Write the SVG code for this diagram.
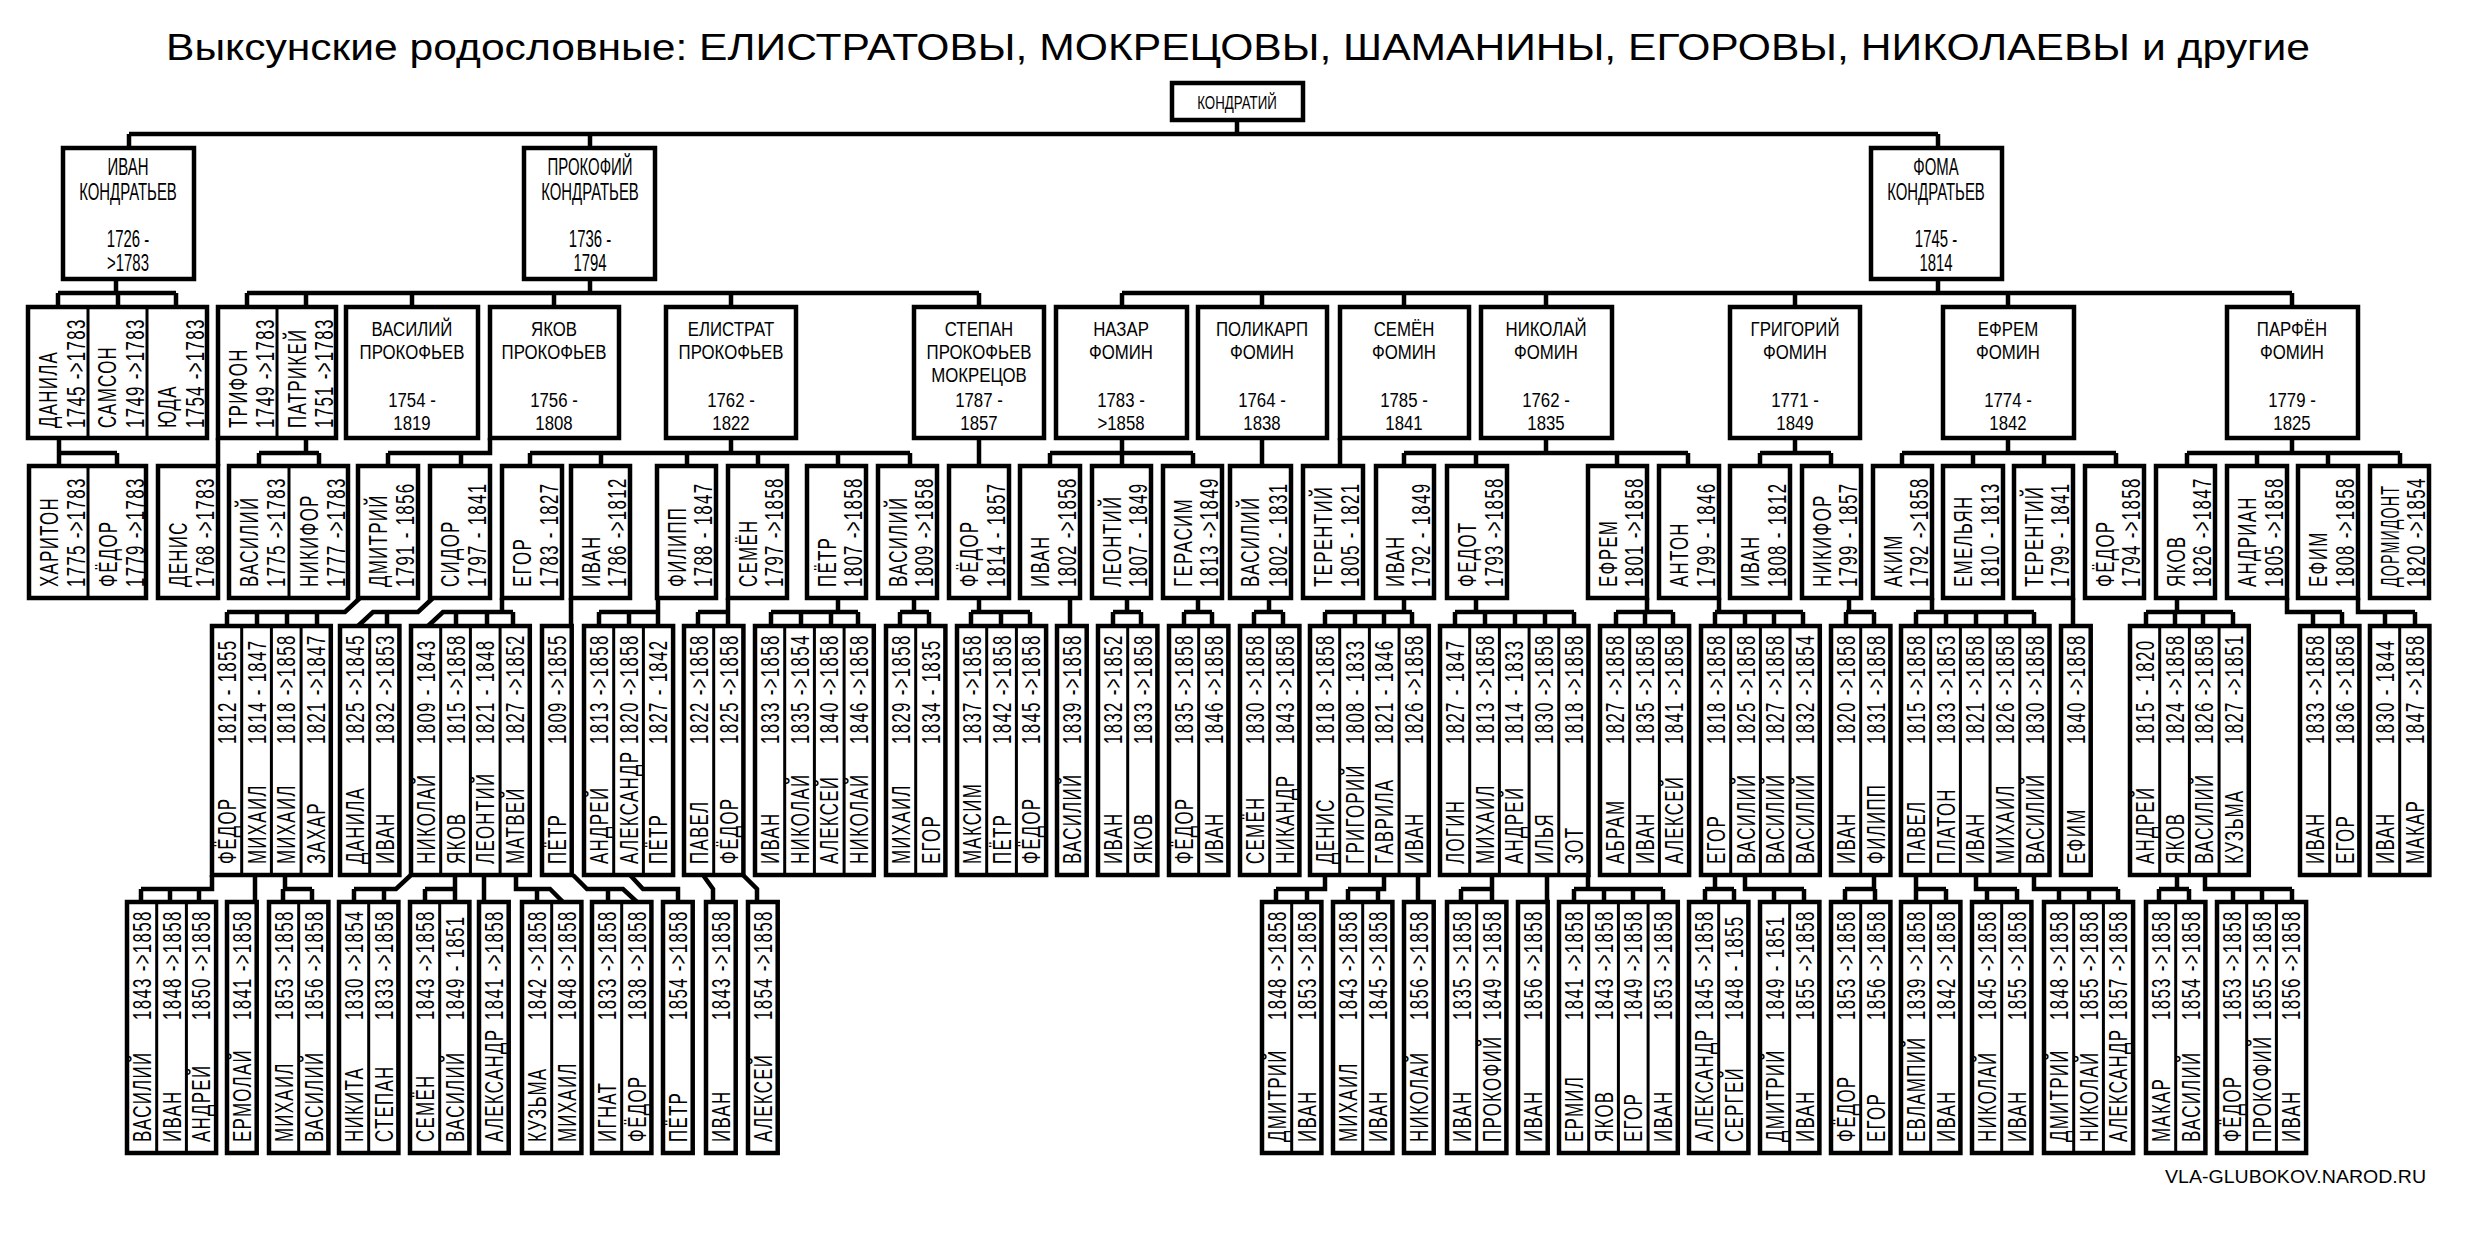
<svg xmlns="http://www.w3.org/2000/svg" width="2477" height="1237" viewBox="0 0 2477 1237">
<style>
.b{fill:#fff;stroke:#000;stroke-width:4.5}
.d{stroke:#000;stroke-width:3}
.c{fill:none;stroke:#000;stroke-width:4.5}
text{font-family:"Liberation Sans",Arial,sans-serif;fill:#000}
.h text{font-size:21px;text-anchor:middle}
.v text{font-size:26px;letter-spacing:2px}
</style>
<rect width="2477" height="1237" fill="#fff"/>
<text x="1238" y="60" font-size="36" text-anchor="middle" textLength="2144" lengthAdjust="spacingAndGlyphs">Выксунские родословные: ЕЛИСТРАТОВЫ, МОКРЕЦОВЫ, ШАМАНИНЫ, ЕГОРОВЫ, НИКОЛАЕВЫ и другие</text>
<text x="2165" y="1183" font-size="18" textLength="261" lengthAdjust="spacingAndGlyphs">VLA-GLUBOKOV.NAROD.RU</text>

<g id="connectors" class="c">
<path d="M1237 120V134M129 134H1938M129 134V148M590 134V148M1938 134V148"/>
<path d="M116 279V293M58 293H176M58 293V307M118 293V307M176 293V307"/>
<path d="M590 279V293M247 293H979M247 293V307M306 293V307M412 293V307M554 293V307M731 293V307M979 293V307"/>
<path d="M1938 279V293M1122 293H2292M1122 293V307M1262 293V307M1404 293V307M1546 293V307M1795 293V307M2008 293V307M2292 293V307"/>
<path d="M59 438V453H117M59 453V466M117 453V466M218 438V466M306 438V453M259 453H319M259 453V466M319 453V466"/>
<path d="M490 438V453H388M388 453V466M461 453V466"/>
<path d="M731 438V453M530 453H910M530 453V466M601 453V466M687 453V466M758 453V466M838 453V466M910 453V466"/>
<path d="M979 438V466M1122 438V453M1050 453H1193M1050 453V466M1122 453V466M1193 453V466M1262 438V466M1340 438V466"/>
<path d="M1546 438V453M1404 453H1688M1404 453V466M1476 453V466M1617 453V466M1688 453V466M1795 438V453M1760 453H1831M1760 453V466M1831 453V466"/>
<path d="M2008 438V453M1902 453H2116M1902 453V466M1973 453V466M2044 453V466M2116 453V466M2292 438V453M2187 453H2400M2187 453V466M2257 453V466M2328 453V466M2400 453V466"/>
<path d="M360 598L345 612H227M227 612V626M257 612V626M287 612V626M317 612V626"/>
<path d="M433 598L418 612H373L358 626M387 612V626"/>
<path d="M502 598V612M443 612H513L443 612L428 626M456 612V626M487 612V626M513 612V626"/>
<path d="M571 598V626M658 598V612H599M599 612V626M629 612V626M658 612V626M728 598V612H698M698 612V626M728 612V626"/>
<path d="M838 598V612M771 612H858M771 612V626M801 612V626M831 612V626M858 612V626M914 598V612M900 612H929M900 612V626M929 612V626"/>
<path d="M979 598V612M971 612H1030M971 612V626M1001 612V626M1030 612V626M1070 598V626M1127 598V612M1113 612H1141M1113 612V626M1141 612V626M1198 598V612M1184 612H1212M1184 612V626M1212 612V626"/>
<path d="M1269 598V612M1254 612H1283M1254 612V626M1283 612V626M1404 598V612M1325 612H1412M1325 612V626M1355 612V626M1384 612V626M1412 612V626"/>
<path d="M1476 598V612M1455 612H1574M1455 612V626M1485 612V626M1515 612V626M1545 612V626M1574 612V626M1647 598V612M1616 612H1673M1616 612V626M1645 612V626M1673 612V626"/>
<path d="M1719 598V612M1715 612H1803M1715 612V626M1745 612V626M1774 612V626M1803 612V626M1849 598V612M1846 612H1874M1846 612V626M1874 612V626"/>
<path d="M1932 598V612M1916 612H2034M1916 612V626M1946 612V626M1976 612V626M2006 612V626M2034 612V626M2073 598V626"/>
<path d="M2177 598V612M2146 612H2233M2146 612V626M2175 612V626M2203 612V626M2233 612V626M2287 598V612H2342M2313 612V626M2342 612V626M2358 598V612H2415M2385 612V626M2415 612V626"/>
<path d="M212 875V889H141M141 889V902M170 889V902M199 889V902M255 875V902M285 875V889M283 889H312M283 889V902M312 889V902"/>
<path d="M411 875L396 889H354M354 889V902M384 889V902M455 875V889H425M425 889V902M455 889V902M484 875V902"/>
<path d="M516 875V889H550L563 902M537 889V902M573 875L587 889H623L637 902M608 889V902M630 875L643 889H678V902M703 875L713 889V902M743 875L757 889V902"/>
<path d="M1325 875V889H1276M1276 889V902M1307 889V902M1384 875V889H1348M1348 889V902M1378 889V902M1418 875V902M1492 875V889H1461M1461 889V902M1492 889V902M1547 875V902"/>
<path d="M1588 875V889M1574 889H1663M1574 889V902M1604 889V902M1633 889V902M1663 889V902M1715 875V889M1705 889H1734M1705 889V902M1734 889V902M1745 875V889H1804M1774 889V902M1804 889V902"/>
<path d="M1874 875V889H1845M1845 889V902M1875 889V902M1916 875V889H1946M1916 889V902M1946 889V902M1976 875V889H2017M1987 889V902M2017 889V902"/>
<path d="M2034 875V889H2118M2059 889V902M2089 889V902M2118 889V902M2177 875V889M2159 889H2189M2159 889V902M2189 889V902M2205 875V889H2292M2233 889V902M2262 889V902M2292 889V902"/>
</g>

<g id="n-kondratiy" class="h"><rect class="b" x="1172" y="83" width="131" height="37"/><text transform="translate(1237,109) scale(.7,1)" style="font-size:19px">КОНДРАТИЙ</text></g>

<g id="n-ivan" class="h"><rect class="b" x="63" y="148" width="131" height="131"/><g transform="translate(128,0) scale(.65,1)"><text y="175" style="font-size:23px">ИВАН</text><text y="200" style="font-size:23px">КОНДРАТЬЕВ</text><text y="247" style="font-size:23px">1726 -</text><text y="271" style="font-size:23px">&gt;1783</text></g></g>
<g id="n-prokofiy" class="h"><rect class="b" x="524" y="148" width="131" height="131"/><g transform="translate(590,0) scale(.65,1)"><text y="175" style="font-size:23px">ПРОКОФИЙ</text><text y="200" style="font-size:23px">КОНДРАТЬЕВ</text><text y="247" style="font-size:23px">1736 -</text><text y="271" style="font-size:23px">1794</text></g></g>
<g id="n-foma" class="h"><rect class="b" x="1871" y="148" width="131" height="131"/><g transform="translate(1936,0) scale(.65,1)"><text y="175" style="font-size:23px">ФОМА</text><text y="200" style="font-size:23px">КОНДРАТЬЕВ</text><text y="247" style="font-size:23px">1745 -</text><text y="271" style="font-size:23px">1814</text></g></g>

<g id="n-vasiliy-p" class="h"><rect class="b" x="346" y="307" width="132" height="131"/><g transform="translate(412,0) scale(.8,1)"><text y="336">ВАСИЛИЙ</text><text y="359">ПРОКОФЬЕВ</text><text y="407">1754 -</text><text y="430">1819</text></g></g>
<g id="n-yakov-p" class="h"><rect class="b" x="490" y="307" width="129" height="131"/><g transform="translate(554,0) scale(.8,1)"><text y="336">ЯКОВ</text><text y="359">ПРОКОФЬЕВ</text><text y="407">1756 -</text><text y="430">1808</text></g></g>
<g id="n-elistrat" class="h"><rect class="b" x="666" y="307" width="130" height="131"/><g transform="translate(731,0) scale(.8,1)"><text y="336">ЕЛИСТРАТ</text><text y="359">ПРОКОФЬЕВ</text><text y="407">1762 -</text><text y="430">1822</text></g></g>
<g id="n-stepan" class="h"><rect class="b" x="914" y="307" width="130" height="131"/><g transform="translate(979,0) scale(.8,1)"><text y="336">СТЕПАН</text><text y="359">ПРОКОФЬЕВ</text><text y="382">МОКРЕЦОВ</text><text y="407">1787 -</text><text y="430">1857</text></g></g>
<g id="n-nazar" class="h"><rect class="b" x="1056" y="307" width="131" height="131"/><g transform="translate(1121,0) scale(.8,1)"><text y="336">НАЗАР</text><text y="359">ФОМИН</text><text y="407">1783 -</text><text y="430">&gt;1858</text></g></g>
<g id="n-polikarp" class="h"><rect class="b" x="1198" y="307" width="129" height="131"/><g transform="translate(1262,0) scale(.8,1)"><text y="336">ПОЛИКАРП</text><text y="359">ФОМИН</text><text y="407">1764 -</text><text y="430">1838</text></g></g>
<g id="n-semen-f" class="h"><rect class="b" x="1340" y="307" width="129" height="131"/><g transform="translate(1404,0) scale(.8,1)"><text y="336">СЕМЁН</text><text y="359">ФОМИН</text><text y="407">1785 -</text><text y="430">1841</text></g></g>
<g id="n-nikolay-f" class="h"><rect class="b" x="1481" y="307" width="131" height="131"/><g transform="translate(1546,0) scale(.8,1)"><text y="336">НИКОЛАЙ</text><text y="359">ФОМИН</text><text y="407">1762 -</text><text y="430">1835</text></g></g>
<g id="n-grigoriy" class="h"><rect class="b" x="1730" y="307" width="130" height="131"/><g transform="translate(1795,0) scale(.8,1)"><text y="336">ГРИГОРИЙ</text><text y="359">ФОМИН</text><text y="407">1771 -</text><text y="430">1849</text></g></g>
<g id="n-efrem-f" class="h"><rect class="b" x="1943" y="307" width="131" height="131"/><g transform="translate(2008,0) scale(.8,1)"><text y="336">ЕФРЕМ</text><text y="359">ФОМИН</text><text y="407">1774 -</text><text y="430">1842</text></g></g>
<g id="n-parfen" class="h"><rect class="b" x="2227" y="307" width="131" height="131"/><g transform="translate(2292,0) scale(.8,1)"><text y="336">ПАРФЁН</text><text y="359">ФОМИН</text><text y="407">1779 -</text><text y="430">1825</text></g></g>

<g id="n-ivan-sons" class="v"><rect class="b" x="28" y="307" width="179" height="131"/><path class="d" d="M88 307V438M147 307V438"/>
<text transform="translate(57,428)rotate(-90)scale(.65,1)">ДАНИЛА</text><text transform="translate(85,428)rotate(-90)scale(.65,1)">1745 -&gt;1783</text>
<text transform="translate(116,428)rotate(-90)scale(.65,1)">САМСОН</text><text transform="translate(144,428)rotate(-90)scale(.65,1)">1749 -&gt;1783</text>
<text transform="translate(176,428)rotate(-90)scale(.65,1)">ЮДА</text><text transform="translate(204,428)rotate(-90)scale(.65,1)">1754 -&gt;1783</text></g>
<g id="n-prok-sons" class="v"><rect class="b" x="218" y="307" width="118" height="131"/><path class="d" d="M277 307V438"/>
<text transform="translate(247,428)rotate(-90)scale(.65,1)">ТРИФОН</text><text transform="translate(274,428)rotate(-90)scale(.65,1)">1749 -&gt;1783</text>
<text transform="translate(306,428)rotate(-90)scale(.65,1)">ПАТРИКЕЙ</text><text transform="translate(333,428)rotate(-90)scale(.65,1)">1751 -&gt;1783</text></g>

<g id="level3" class="v">
<rect class="b" x="29" y="466" width="117" height="132"/><path class="d" d="M88 466V598M288 466V598"/>
<text transform="translate(58,587)rotate(-90)scale(.65,1)">ХАРИТОН</text><text transform="translate(85,587)rotate(-90)scale(.65,1)">1775 -&gt;1783</text>
<text transform="translate(117,587)rotate(-90)scale(.65,1)">ФЁДОР</text><text transform="translate(144,587)rotate(-90)scale(.65,1)">1779 -&gt;1783</text>
<rect class="b" x="158" y="466" width="60" height="132"/>
<text transform="translate(187,587)rotate(-90)scale(.65,1)">ДЕНИС</text><text transform="translate(214,587)rotate(-90)scale(.65,1)">1768 -&gt;1783</text>
<rect class="b" x="229" y="466" width="119" height="132"/><path class="d" d="M289 466V598"/>
<text transform="translate(258,587)rotate(-90)scale(.65,1)">ВАСИЛИЙ</text><text transform="translate(285,587)rotate(-90)scale(.65,1)">1775 -&gt;1783</text>
<text transform="translate(318,587)rotate(-90)scale(.65,1)">НИКИФОР</text><text transform="translate(345,587)rotate(-90)scale(.65,1)">1777 -&gt;1783</text>
<rect class="b" x="358" y="466" width="60" height="132"/><text transform="translate(387,587)rotate(-90)scale(.65,1)">ДМИТРИЙ</text><text transform="translate(414,587)rotate(-90)scale(.65,1)">1791 - 1856</text>
<rect class="b" x="430" y="466" width="60" height="132"/><text transform="translate(459,587)rotate(-90)scale(.65,1)">СИДОР</text><text transform="translate(486,587)rotate(-90)scale(.65,1)">1797 - 1841</text>
<rect class="b" x="502" y="466" width="60" height="132"/><text transform="translate(531,587)rotate(-90)scale(.65,1)">ЕГОР</text><text transform="translate(558,587)rotate(-90)scale(.65,1)">1783 - 1827</text>
<rect class="b" x="571" y="466" width="59" height="132"/><text transform="translate(600,587)rotate(-90)scale(.65,1)">ИВАН</text><text transform="translate(626,587)rotate(-90)scale(.65,1)">1786 -&gt;1812</text>
<rect class="b" x="657" y="466" width="59" height="132"/><text transform="translate(686,587)rotate(-90)scale(.65,1)">ФИЛИПП</text><text transform="translate(712,587)rotate(-90)scale(.65,1)">1788 - 1847</text>
<rect class="b" x="728" y="466" width="59" height="132"/><text transform="translate(757,587)rotate(-90)scale(.65,1)">СЕМЁН</text><text transform="translate(783,587)rotate(-90)scale(.65,1)">1797 -&gt;1858</text>
<rect class="b" x="807" y="466" width="59" height="132"/><text transform="translate(836,587)rotate(-90)scale(.65,1)">ПЁТР</text><text transform="translate(862,587)rotate(-90)scale(.65,1)">1807 -&gt;1858</text>
<rect class="b" x="878" y="466" width="59" height="132"/><text transform="translate(907,587)rotate(-90)scale(.65,1)">ВАСИЛИЙ</text><text transform="translate(933,587)rotate(-90)scale(.65,1)">1809 -&gt;1858</text>
<rect class="b" x="949" y="466" width="60" height="132"/><text transform="translate(978,587)rotate(-90)scale(.65,1)">ФЁДОР</text><text transform="translate(1005,587)rotate(-90)scale(.65,1)">1814 - 1857</text>
<rect class="b" x="1020" y="466" width="60" height="132"/><text transform="translate(1049,587)rotate(-90)scale(.65,1)">ИВАН</text><text transform="translate(1076,587)rotate(-90)scale(.65,1)">1802 -&gt;1858</text>
<rect class="b" x="1092" y="466" width="59" height="132"/><text transform="translate(1121,587)rotate(-90)scale(.65,1)">ЛЕОНТИЙ</text><text transform="translate(1147,587)rotate(-90)scale(.65,1)">1807 - 1849</text>
<rect class="b" x="1163" y="466" width="59" height="132"/><text transform="translate(1192,587)rotate(-90)scale(.65,1)">ГЕРАСИМ</text><text transform="translate(1218,587)rotate(-90)scale(.65,1)">1813 -&gt;1849</text>
<rect class="b" x="1230" y="466" width="61" height="132"/><text transform="translate(1259,587)rotate(-90)scale(.65,1)">ВАСИЛИЙ</text><text transform="translate(1287,587)rotate(-90)scale(.65,1)">1802 - 1831</text>
<rect class="b" x="1303" y="466" width="60" height="132"/><text transform="translate(1332,587)rotate(-90)scale(.65,1)">ТЕРЕНТИЙ</text><text transform="translate(1359,587)rotate(-90)scale(.65,1)">1805 - 1821</text>
<rect class="b" x="1376" y="466" width="58" height="132"/><text transform="translate(1404,587)rotate(-90)scale(.65,1)">ИВАН</text><text transform="translate(1430,587)rotate(-90)scale(.65,1)">1792 - 1849</text>
<rect class="b" x="1447" y="466" width="60" height="132"/><text transform="translate(1476,587)rotate(-90)scale(.65,1)">ФЕДОТ</text><text transform="translate(1503,587)rotate(-90)scale(.65,1)">1793 -&gt;1858</text>
<rect class="b" x="1588" y="466" width="59" height="132"/><text transform="translate(1617,587)rotate(-90)scale(.65,1)">ЕФРЕМ</text><text transform="translate(1643,587)rotate(-90)scale(.65,1)">1801 -&gt;1858</text>
<rect class="b" x="1659" y="466" width="60" height="132"/><text transform="translate(1688,587)rotate(-90)scale(.65,1)">АНТОН</text><text transform="translate(1715,587)rotate(-90)scale(.65,1)">1799 - 1846</text>
<rect class="b" x="1730" y="466" width="60" height="132"/><text transform="translate(1759,587)rotate(-90)scale(.65,1)">ИВАН</text><text transform="translate(1786,587)rotate(-90)scale(.65,1)">1808 - 1812</text>
<rect class="b" x="1802" y="466" width="59" height="132"/><text transform="translate(1831,587)rotate(-90)scale(.65,1)">НИКИФОР</text><text transform="translate(1857,587)rotate(-90)scale(.65,1)">1799 - 1857</text>
<rect class="b" x="1873" y="466" width="59" height="132"/><text transform="translate(1902,587)rotate(-90)scale(.65,1)">АКИМ</text><text transform="translate(1928,587)rotate(-90)scale(.65,1)">1792 -&gt;1858</text>
<rect class="b" x="1943" y="466" width="60" height="132"/><text transform="translate(1972,587)rotate(-90)scale(.65,1)">ЕМЕЛЬЯН</text><text transform="translate(1999,587)rotate(-90)scale(.65,1)">1810 - 1813</text>
<rect class="b" x="2014" y="466" width="59" height="132"/><text transform="translate(2043,587)rotate(-90)scale(.65,1)">ТЕРЕНТИЙ</text><text transform="translate(2069,587)rotate(-90)scale(.65,1)">1799 - 1841</text>
<rect class="b" x="2085" y="466" width="59" height="132"/><text transform="translate(2114,587)rotate(-90)scale(.65,1)">ФЁДОР</text><text transform="translate(2140,587)rotate(-90)scale(.65,1)">1794 -&gt;1858</text>
<rect class="b" x="2156" y="466" width="59" height="132"/><text transform="translate(2185,587)rotate(-90)scale(.65,1)">ЯКОВ</text><text transform="translate(2211,587)rotate(-90)scale(.65,1)">1826 -&gt;1847</text>
<rect class="b" x="2227" y="466" width="60" height="132"/><text transform="translate(2256,587)rotate(-90)scale(.65,1)">АНДРИАН</text><text transform="translate(2283,587)rotate(-90)scale(.65,1)">1805 -&gt;1858</text>
<rect class="b" x="2298" y="466" width="60" height="132"/><text transform="translate(2327,587)rotate(-90)scale(.65,1)">ЕФИМ</text><text transform="translate(2354,587)rotate(-90)scale(.65,1)">1808 -&gt;1858</text>
<rect class="b" x="2370" y="466" width="59" height="132"/><text transform="translate(2399,587)rotate(-90)scale(.55,1)">ДОРМИДОНТ</text><text transform="translate(2425,587)rotate(-90)scale(.65,1)">1820 -&gt;1854</text>
</g>

<g id="level4" class="v">
<rect class="b" x="212" y="626" width="118.8" height="249"/><path class="d" d="M241.7 626V875M271.4 626V875M301.1 626V875"/>
<text transform="translate(236,864)rotate(-90)scale(.65,1)">ФЁДОР</text><text transform="translate(236,744)rotate(-90)scale(.65,1)">1812 - 1855</text>
<text transform="translate(265.7,864)rotate(-90)scale(.65,1)">МИХАИЛ</text><text transform="translate(265.7,744)rotate(-90)scale(.65,1)">1814 - 1847</text>
<text transform="translate(295.4,864)rotate(-90)scale(.65,1)">МИХАИЛ</text><text transform="translate(295.4,744)rotate(-90)scale(.65,1)">1818 -&gt;1858</text>
<text transform="translate(325.1,864)rotate(-90)scale(.65,1)">ЗАХАР</text><text transform="translate(325.1,744)rotate(-90)scale(.65,1)">1821 -&gt;1847</text>
<rect class="b" x="340" y="626" width="59.4" height="249"/><path class="d" d="M369.7 626V875"/>
<text transform="translate(364,864)rotate(-90)scale(.65,1)">ДАНИЛА</text><text transform="translate(364,744)rotate(-90)scale(.65,1)">1825 -&gt;1845</text>
<text transform="translate(393.7,864)rotate(-90)scale(.65,1)">ИВАН</text><text transform="translate(393.7,744)rotate(-90)scale(.65,1)">1832 -&gt;1853</text>
<rect class="b" x="411" y="626" width="118.8" height="249"/><path class="d" d="M440.7 626V875M470.4 626V875M500.1 626V875"/>
<text transform="translate(435,864)rotate(-90)scale(.65,1)">НИКОЛАЙ</text><text transform="translate(435,744)rotate(-90)scale(.65,1)">1809 - 1843</text>
<text transform="translate(464.7,864)rotate(-90)scale(.65,1)">ЯКОВ</text><text transform="translate(464.7,744)rotate(-90)scale(.65,1)">1815 -&gt;1858</text>
<text transform="translate(494.4,864)rotate(-90)scale(.65,1)">ЛЕОНТИЙ</text><text transform="translate(494.4,744)rotate(-90)scale(.65,1)">1821 - 1848</text>
<text transform="translate(524.1,864)rotate(-90)scale(.65,1)">МАТВЕЙ</text><text transform="translate(524.1,744)rotate(-90)scale(.65,1)">1827 -&gt;1852</text>
<rect class="b" x="542" y="626" width="29.7" height="249"/>
<text transform="translate(566,864)rotate(-90)scale(.65,1)">ПЁТР</text><text transform="translate(566,744)rotate(-90)scale(.65,1)">1809 -&gt;1855</text>
<rect class="b" x="584" y="626" width="89.1" height="249"/><path class="d" d="M613.7 626V875M643.4 626V875"/>
<text transform="translate(608,864)rotate(-90)scale(.65,1)">АНДРЕЙ</text><text transform="translate(608,744)rotate(-90)scale(.65,1)">1813 -&gt;1858</text>
<text transform="translate(637.7,864)rotate(-90)scale(.65,1)">АЛЕКСАНДР</text><text transform="translate(637.7,744)rotate(-90)scale(.65,1)">1820 -&gt;1858</text>
<text transform="translate(667.4,864)rotate(-90)scale(.65,1)">ПЁТР</text><text transform="translate(667.4,744)rotate(-90)scale(.65,1)">1827 - 1842</text>
<rect class="b" x="684" y="626" width="59.4" height="249"/><path class="d" d="M713.7 626V875"/>
<text transform="translate(708,864)rotate(-90)scale(.65,1)">ПАВЕЛ</text><text transform="translate(708,744)rotate(-90)scale(.65,1)">1822 -&gt;1858</text>
<text transform="translate(737.7,864)rotate(-90)scale(.65,1)">ФЁДОР</text><text transform="translate(737.7,744)rotate(-90)scale(.65,1)">1825 -&gt;1858</text>
<rect class="b" x="755" y="626" width="118.8" height="249"/><path class="d" d="M784.7 626V875M814.4 626V875M844.1 626V875"/>
<text transform="translate(779,864)rotate(-90)scale(.65,1)">ИВАН</text><text transform="translate(779,744)rotate(-90)scale(.65,1)">1833 -&gt;1858</text>
<text transform="translate(808.7,864)rotate(-90)scale(.65,1)">НИКОЛАЙ</text><text transform="translate(808.7,744)rotate(-90)scale(.65,1)">1835 -&gt;1854</text>
<text transform="translate(838.4,864)rotate(-90)scale(.65,1)">АЛЕКСЕЙ</text><text transform="translate(838.4,744)rotate(-90)scale(.65,1)">1840 -&gt;1858</text>
<text transform="translate(868.1,864)rotate(-90)scale(.65,1)">НИКОЛАЙ</text><text transform="translate(868.1,744)rotate(-90)scale(.65,1)">1846 -&gt;1858</text>
<rect class="b" x="886" y="626" width="59.4" height="249"/><path class="d" d="M915.7 626V875"/>
<text transform="translate(910,864)rotate(-90)scale(.65,1)">МИХАИЛ</text><text transform="translate(910,744)rotate(-90)scale(.65,1)">1829 -&gt;1858</text>
<text transform="translate(939.7,864)rotate(-90)scale(.65,1)">ЕГОР</text><text transform="translate(939.7,744)rotate(-90)scale(.65,1)">1834 - 1835</text>
<rect class="b" x="957" y="626" width="89.1" height="249"/><path class="d" d="M986.7 626V875M1016.4 626V875"/>
<text transform="translate(981,864)rotate(-90)scale(.65,1)">МАКСИМ</text><text transform="translate(981,744)rotate(-90)scale(.65,1)">1837 -&gt;1858</text>
<text transform="translate(1010.7,864)rotate(-90)scale(.65,1)">ПЁТР</text><text transform="translate(1010.7,744)rotate(-90)scale(.65,1)">1842 -&gt;1858</text>
<text transform="translate(1040.4,864)rotate(-90)scale(.65,1)">ФЁДОР</text><text transform="translate(1040.4,744)rotate(-90)scale(.65,1)">1845 -&gt;1858</text>
<rect class="b" x="1057" y="626" width="29.7" height="249"/>
<text transform="translate(1081,864)rotate(-90)scale(.65,1)">ВАСИЛИЙ</text><text transform="translate(1081,744)rotate(-90)scale(.65,1)">1839 -&gt;1858</text>
<rect class="b" x="1098" y="626" width="59.4" height="249"/><path class="d" d="M1127.7 626V875"/>
<text transform="translate(1122,864)rotate(-90)scale(.65,1)">ИВАН</text><text transform="translate(1122,744)rotate(-90)scale(.65,1)">1832 -&gt;1852</text>
<text transform="translate(1151.7,864)rotate(-90)scale(.65,1)">ЯКОВ</text><text transform="translate(1151.7,744)rotate(-90)scale(.65,1)">1833 -&gt;1858</text>
<rect class="b" x="1169" y="626" width="59.4" height="249"/><path class="d" d="M1198.7 626V875"/>
<text transform="translate(1193,864)rotate(-90)scale(.65,1)">ФЁДОР</text><text transform="translate(1193,744)rotate(-90)scale(.65,1)">1835 -&gt;1858</text>
<text transform="translate(1222.7,864)rotate(-90)scale(.65,1)">ИВАН</text><text transform="translate(1222.7,744)rotate(-90)scale(.65,1)">1846 -&gt;1858</text>
<rect class="b" x="1240" y="626" width="59.4" height="249"/><path class="d" d="M1269.7 626V875"/>
<text transform="translate(1264,864)rotate(-90)scale(.65,1)">СЕМЁН</text><text transform="translate(1264,744)rotate(-90)scale(.65,1)">1830 -&gt;1858</text>
<text transform="translate(1293.7,864)rotate(-90)scale(.65,1)">НИКАНДР</text><text transform="translate(1293.7,744)rotate(-90)scale(.65,1)">1843 -&gt;1858</text>
<rect class="b" x="1310" y="626" width="118.8" height="249"/><path class="d" d="M1339.7 626V875M1369.4 626V875M1399.1 626V875"/>
<text transform="translate(1334,864)rotate(-90)scale(.65,1)">ДЕНИС</text><text transform="translate(1334,744)rotate(-90)scale(.65,1)">1818 -&gt;1858</text>
<text transform="translate(1363.7,864)rotate(-90)scale(.65,1)">ГРИГОРИЙ</text><text transform="translate(1363.7,744)rotate(-90)scale(.65,1)">1808 - 1833</text>
<text transform="translate(1393.4,864)rotate(-90)scale(.65,1)">ГАВРИЛА</text><text transform="translate(1393.4,744)rotate(-90)scale(.65,1)">1821 - 1846</text>
<text transform="translate(1423.1,864)rotate(-90)scale(.65,1)">ИВАН</text><text transform="translate(1423.1,744)rotate(-90)scale(.65,1)">1826 -&gt;1858</text>
<rect class="b" x="1440" y="626" width="148.5" height="249"/><path class="d" d="M1469.7 626V875M1499.4 626V875M1529.1 626V875M1558.8 626V875"/>
<text transform="translate(1464,864)rotate(-90)scale(.65,1)">ЛОГИН</text><text transform="translate(1464,744)rotate(-90)scale(.65,1)">1827 - 1847</text>
<text transform="translate(1493.7,864)rotate(-90)scale(.65,1)">МИХАИЛ</text><text transform="translate(1493.7,744)rotate(-90)scale(.65,1)">1813 -&gt;1858</text>
<text transform="translate(1523.4,864)rotate(-90)scale(.65,1)">АНДРЕЙ</text><text transform="translate(1523.4,744)rotate(-90)scale(.65,1)">1814 - 1833</text>
<text transform="translate(1553.1,864)rotate(-90)scale(.65,1)">ИЛЬЯ</text><text transform="translate(1553.1,744)rotate(-90)scale(.65,1)">1830 -&gt;1858</text>
<text transform="translate(1582.8,864)rotate(-90)scale(.65,1)">ЗОТ</text><text transform="translate(1582.8,744)rotate(-90)scale(.65,1)">1818 -&gt;1858</text>
<rect class="b" x="1600" y="626" width="89.1" height="249"/><path class="d" d="M1629.7 626V875M1659.4 626V875"/>
<text transform="translate(1624,864)rotate(-90)scale(.65,1)">АБРАМ</text><text transform="translate(1624,744)rotate(-90)scale(.65,1)">1827 -&gt;1858</text>
<text transform="translate(1653.7,864)rotate(-90)scale(.65,1)">ИВАН</text><text transform="translate(1653.7,744)rotate(-90)scale(.65,1)">1835 -&gt;1858</text>
<text transform="translate(1683.4,864)rotate(-90)scale(.65,1)">АЛЕКСЕЙ</text><text transform="translate(1683.4,744)rotate(-90)scale(.65,1)">1841 -&gt;1858</text>
<rect class="b" x="1701" y="626" width="118.8" height="249"/><path class="d" d="M1730.7 626V875M1760.4 626V875M1790.1 626V875"/>
<text transform="translate(1725,864)rotate(-90)scale(.65,1)">ЕГОР</text><text transform="translate(1725,744)rotate(-90)scale(.65,1)">1818 -&gt;1858</text>
<text transform="translate(1754.7,864)rotate(-90)scale(.65,1)">ВАСИЛИЙ</text><text transform="translate(1754.7,744)rotate(-90)scale(.65,1)">1825 -&gt;1858</text>
<text transform="translate(1784.4,864)rotate(-90)scale(.65,1)">ВАСИЛИЙ</text><text transform="translate(1784.4,744)rotate(-90)scale(.65,1)">1827 -&gt;1858</text>
<text transform="translate(1814.1,864)rotate(-90)scale(.65,1)">ВАСИЛИЙ</text><text transform="translate(1814.1,744)rotate(-90)scale(.65,1)">1832 -&gt;1854</text>
<rect class="b" x="1831" y="626" width="59.4" height="249"/><path class="d" d="M1860.7 626V875"/>
<text transform="translate(1855,864)rotate(-90)scale(.65,1)">ИВАН</text><text transform="translate(1855,744)rotate(-90)scale(.65,1)">1820 -&gt;1858</text>
<text transform="translate(1884.7,864)rotate(-90)scale(.65,1)">ФИЛИПП</text><text transform="translate(1884.7,744)rotate(-90)scale(.65,1)">1831 -&gt;1858</text>
<rect class="b" x="1901" y="626" width="148.5" height="249"/><path class="d" d="M1930.7 626V875M1960.4 626V875M1990.1 626V875M2019.8 626V875"/>
<text transform="translate(1925,864)rotate(-90)scale(.65,1)">ПАВЕЛ</text><text transform="translate(1925,744)rotate(-90)scale(.65,1)">1815 -&gt;1858</text>
<text transform="translate(1954.7,864)rotate(-90)scale(.65,1)">ПЛАТОН</text><text transform="translate(1954.7,744)rotate(-90)scale(.65,1)">1833 -&gt;1853</text>
<text transform="translate(1984.4,864)rotate(-90)scale(.65,1)">ИВАН</text><text transform="translate(1984.4,744)rotate(-90)scale(.65,1)">1821 -&gt;1858</text>
<text transform="translate(2014.1,864)rotate(-90)scale(.65,1)">МИХАИЛ</text><text transform="translate(2014.1,744)rotate(-90)scale(.65,1)">1826 -&gt;1858</text>
<text transform="translate(2043.8,864)rotate(-90)scale(.65,1)">ВАСИЛИЙ</text><text transform="translate(2043.8,744)rotate(-90)scale(.65,1)">1830 -&gt;1858</text>
<rect class="b" x="2061" y="626" width="29.7" height="249"/>
<text transform="translate(2085,864)rotate(-90)scale(.65,1)">ЕФИМ</text><text transform="translate(2085,744)rotate(-90)scale(.65,1)">1840 -&gt;1858</text>
<rect class="b" x="2130" y="626" width="118.8" height="249"/><path class="d" d="M2159.7 626V875M2189.4 626V875M2219.1 626V875"/>
<text transform="translate(2154,864)rotate(-90)scale(.65,1)">АНДРЕЙ</text><text transform="translate(2154,744)rotate(-90)scale(.65,1)">1815 - 1820</text>
<text transform="translate(2183.7,864)rotate(-90)scale(.65,1)">ЯКОВ</text><text transform="translate(2183.7,744)rotate(-90)scale(.65,1)">1824 -&gt;1858</text>
<text transform="translate(2213.4,864)rotate(-90)scale(.65,1)">ВАСИЛИЙ</text><text transform="translate(2213.4,744)rotate(-90)scale(.65,1)">1826 -&gt;1858</text>
<text transform="translate(2243.1,864)rotate(-90)scale(.65,1)">КУЗЬМА</text><text transform="translate(2243.1,744)rotate(-90)scale(.65,1)">1827 -&gt;1851</text>
<rect class="b" x="2300" y="626" width="59.4" height="249"/><path class="d" d="M2329.7 626V875"/>
<text transform="translate(2324,864)rotate(-90)scale(.65,1)">ИВАН</text><text transform="translate(2324,744)rotate(-90)scale(.65,1)">1833 -&gt;1858</text>
<text transform="translate(2353.7,864)rotate(-90)scale(.65,1)">ЕГОР</text><text transform="translate(2353.7,744)rotate(-90)scale(.65,1)">1836 -&gt;1858</text>
<rect class="b" x="2370" y="626" width="59.4" height="249"/><path class="d" d="M2399.7 626V875"/>
<text transform="translate(2394,864)rotate(-90)scale(.65,1)">ИВАН</text><text transform="translate(2394,744)rotate(-90)scale(.65,1)">1830 - 1844</text>
<text transform="translate(2423.7,864)rotate(-90)scale(.65,1)">МАКАР</text><text transform="translate(2423.7,744)rotate(-90)scale(.65,1)">1847 -&gt;1858</text>
</g>

<g id="level5" class="v">
<rect class="b" x="127" y="902" width="89.1" height="251"/><path class="d" d="M156.7 902V1153M186.4 902V1153"/>
<text transform="translate(151,1142)rotate(-90)scale(.65,1)">ВАСИЛИЙ</text><text transform="translate(151,1020)rotate(-90)scale(.65,1)">1843 -&gt;1858</text>
<text transform="translate(180.7,1142)rotate(-90)scale(.65,1)">ИВАН</text><text transform="translate(180.7,1020)rotate(-90)scale(.65,1)">1848 -&gt;1858</text>
<text transform="translate(210.4,1142)rotate(-90)scale(.65,1)">АНДРЕЙ</text><text transform="translate(210.4,1020)rotate(-90)scale(.65,1)">1850 -&gt;1858</text>
<rect class="b" x="227" y="902" width="29.7" height="251"/>
<text transform="translate(251,1142)rotate(-90)scale(.65,1)">ЕРМОЛАЙ</text><text transform="translate(251,1020)rotate(-90)scale(.65,1)">1841 -&gt;1858</text>
<rect class="b" x="269" y="902" width="59.4" height="251"/><path class="d" d="M298.7 902V1153"/>
<text transform="translate(293,1142)rotate(-90)scale(.65,1)">МИХАИЛ</text><text transform="translate(293,1020)rotate(-90)scale(.65,1)">1853 -&gt;1858</text>
<text transform="translate(322.7,1142)rotate(-90)scale(.65,1)">ВАСИЛИЙ</text><text transform="translate(322.7,1020)rotate(-90)scale(.65,1)">1856 -&gt;1858</text>
<rect class="b" x="339" y="902" width="59.4" height="251"/><path class="d" d="M368.7 902V1153"/>
<text transform="translate(363,1142)rotate(-90)scale(.65,1)">НИКИТА</text><text transform="translate(363,1020)rotate(-90)scale(.65,1)">1830 -&gt;1854</text>
<text transform="translate(392.7,1142)rotate(-90)scale(.65,1)">СТЕПАН</text><text transform="translate(392.7,1020)rotate(-90)scale(.65,1)">1833 -&gt;1858</text>
<rect class="b" x="410" y="902" width="59.4" height="251"/><path class="d" d="M439.7 902V1153"/>
<text transform="translate(434,1142)rotate(-90)scale(.65,1)">СЕМЁН</text><text transform="translate(434,1020)rotate(-90)scale(.65,1)">1843 -&gt;1858</text>
<text transform="translate(463.7,1142)rotate(-90)scale(.65,1)">ВАСИЛИЙ</text><text transform="translate(463.7,1020)rotate(-90)scale(.65,1)">1849 - 1851</text>
<rect class="b" x="479" y="902" width="29.7" height="251"/>
<text transform="translate(503,1142)rotate(-90)scale(.65,1)">АЛЕКСАНДР</text><text transform="translate(503,1020)rotate(-90)scale(.65,1)">1841 -&gt;1858</text>
<rect class="b" x="522" y="902" width="59.4" height="251"/><path class="d" d="M551.7 902V1153"/>
<text transform="translate(546,1142)rotate(-90)scale(.65,1)">КУЗЬМА</text><text transform="translate(546,1020)rotate(-90)scale(.65,1)">1842 -&gt;1858</text>
<text transform="translate(575.7,1142)rotate(-90)scale(.65,1)">МИХАИЛ</text><text transform="translate(575.7,1020)rotate(-90)scale(.65,1)">1848 -&gt;1858</text>
<rect class="b" x="592" y="902" width="59.4" height="251"/><path class="d" d="M621.7 902V1153"/>
<text transform="translate(616,1142)rotate(-90)scale(.65,1)">ИГНАТ</text><text transform="translate(616,1020)rotate(-90)scale(.65,1)">1833 -&gt;1858</text>
<text transform="translate(645.7,1142)rotate(-90)scale(.65,1)">ФЁДОР</text><text transform="translate(645.7,1020)rotate(-90)scale(.65,1)">1838 -&gt;1858</text>
<rect class="b" x="663" y="902" width="29.7" height="251"/>
<text transform="translate(687,1142)rotate(-90)scale(.65,1)">ПЁТР</text><text transform="translate(687,1020)rotate(-90)scale(.65,1)">1854 -&gt;1858</text>
<rect class="b" x="706" y="902" width="29.7" height="251"/>
<text transform="translate(730,1142)rotate(-90)scale(.65,1)">ИВАН</text><text transform="translate(730,1020)rotate(-90)scale(.65,1)">1843 -&gt;1858</text>
<rect class="b" x="748" y="902" width="29.7" height="251"/>
<text transform="translate(772,1142)rotate(-90)scale(.65,1)">АЛЕКСЕЙ</text><text transform="translate(772,1020)rotate(-90)scale(.65,1)">1854 -&gt;1858</text>
<rect class="b" x="1262" y="902" width="59.4" height="251"/><path class="d" d="M1291.7 902V1153"/>
<text transform="translate(1286,1142)rotate(-90)scale(.65,1)">ДМИТРИЙ</text><text transform="translate(1286,1020)rotate(-90)scale(.65,1)">1848 -&gt;1858</text>
<text transform="translate(1315.7,1142)rotate(-90)scale(.65,1)">ИВАН</text><text transform="translate(1315.7,1020)rotate(-90)scale(.65,1)">1853 -&gt;1858</text>
<rect class="b" x="1333" y="902" width="59.4" height="251"/><path class="d" d="M1362.7 902V1153"/>
<text transform="translate(1357,1142)rotate(-90)scale(.65,1)">МИХАИЛ</text><text transform="translate(1357,1020)rotate(-90)scale(.65,1)">1843 -&gt;1858</text>
<text transform="translate(1386.7,1142)rotate(-90)scale(.65,1)">ИВАН</text><text transform="translate(1386.7,1020)rotate(-90)scale(.65,1)">1845 -&gt;1858</text>
<rect class="b" x="1404" y="902" width="29.7" height="251"/>
<text transform="translate(1428,1142)rotate(-90)scale(.65,1)">НИКОЛАЙ</text><text transform="translate(1428,1020)rotate(-90)scale(.65,1)">1856 -&gt;1858</text>
<rect class="b" x="1447" y="902" width="59.4" height="251"/><path class="d" d="M1476.7 902V1153"/>
<text transform="translate(1471,1142)rotate(-90)scale(.65,1)">ИВАН</text><text transform="translate(1471,1020)rotate(-90)scale(.65,1)">1835 -&gt;1858</text>
<text transform="translate(1500.7,1142)rotate(-90)scale(.65,1)">ПРОКОФИЙ</text><text transform="translate(1500.7,1020)rotate(-90)scale(.65,1)">1849 -&gt;1858</text>
<rect class="b" x="1518" y="902" width="29.7" height="251"/>
<text transform="translate(1542,1142)rotate(-90)scale(.65,1)">ИВАН</text><text transform="translate(1542,1020)rotate(-90)scale(.65,1)">1856 -&gt;1858</text>
<rect class="b" x="1559" y="902" width="118.8" height="251"/><path class="d" d="M1588.7 902V1153M1618.4 902V1153M1648.1 902V1153"/>
<text transform="translate(1583,1142)rotate(-90)scale(.65,1)">ЕРМИЛ</text><text transform="translate(1583,1020)rotate(-90)scale(.65,1)">1841 -&gt;1858</text>
<text transform="translate(1612.7,1142)rotate(-90)scale(.65,1)">ЯКОВ</text><text transform="translate(1612.7,1020)rotate(-90)scale(.65,1)">1843 -&gt;1858</text>
<text transform="translate(1642.4,1142)rotate(-90)scale(.65,1)">ЕГОР</text><text transform="translate(1642.4,1020)rotate(-90)scale(.65,1)">1849 -&gt;1858</text>
<text transform="translate(1672.1,1142)rotate(-90)scale(.65,1)">ИВАН</text><text transform="translate(1672.1,1020)rotate(-90)scale(.65,1)">1853 -&gt;1858</text>
<rect class="b" x="1689" y="902" width="59.4" height="251"/><path class="d" d="M1718.7 902V1153"/>
<text transform="translate(1713,1142)rotate(-90)scale(.65,1)">АЛЕКСАНДР</text><text transform="translate(1713,1020)rotate(-90)scale(.65,1)">1845 -&gt;1858</text>
<text transform="translate(1742.7,1142)rotate(-90)scale(.65,1)">СЕРГЕЙ</text><text transform="translate(1742.7,1020)rotate(-90)scale(.65,1)">1848 - 1855</text>
<rect class="b" x="1760" y="902" width="59.4" height="251"/><path class="d" d="M1789.7 902V1153"/>
<text transform="translate(1784,1142)rotate(-90)scale(.65,1)">ДМИТРИЙ</text><text transform="translate(1784,1020)rotate(-90)scale(.65,1)">1849 - 1851</text>
<text transform="translate(1813.7,1142)rotate(-90)scale(.65,1)">ИВАН</text><text transform="translate(1813.7,1020)rotate(-90)scale(.65,1)">1855 -&gt;1858</text>
<rect class="b" x="1831" y="902" width="59.4" height="251"/><path class="d" d="M1860.7 902V1153"/>
<text transform="translate(1855,1142)rotate(-90)scale(.65,1)">ФЁДОР</text><text transform="translate(1855,1020)rotate(-90)scale(.65,1)">1853 -&gt;1858</text>
<text transform="translate(1884.7,1142)rotate(-90)scale(.65,1)">ЕГОР</text><text transform="translate(1884.7,1020)rotate(-90)scale(.65,1)">1856 -&gt;1858</text>
<rect class="b" x="1901" y="902" width="59.4" height="251"/><path class="d" d="M1930.7 902V1153"/>
<text transform="translate(1925,1142)rotate(-90)scale(.65,1)">ЕВЛАМПИЙ</text><text transform="translate(1925,1020)rotate(-90)scale(.65,1)">1839 -&gt;1858</text>
<text transform="translate(1954.7,1142)rotate(-90)scale(.65,1)">ИВАН</text><text transform="translate(1954.7,1020)rotate(-90)scale(.65,1)">1842 -&gt;1858</text>
<rect class="b" x="1972" y="902" width="59.4" height="251"/><path class="d" d="M2001.7 902V1153"/>
<text transform="translate(1996,1142)rotate(-90)scale(.65,1)">НИКОЛАЙ</text><text transform="translate(1996,1020)rotate(-90)scale(.65,1)">1845 -&gt;1858</text>
<text transform="translate(2025.7,1142)rotate(-90)scale(.65,1)">ИВАН</text><text transform="translate(2025.7,1020)rotate(-90)scale(.65,1)">1855 -&gt;1858</text>
<rect class="b" x="2044" y="902" width="89.1" height="251"/><path class="d" d="M2073.7 902V1153M2103.4 902V1153"/>
<text transform="translate(2068,1142)rotate(-90)scale(.65,1)">ДМИТРИЙ</text><text transform="translate(2068,1020)rotate(-90)scale(.65,1)">1848 -&gt;1858</text>
<text transform="translate(2097.7,1142)rotate(-90)scale(.65,1)">НИКОЛАЙ</text><text transform="translate(2097.7,1020)rotate(-90)scale(.65,1)">1855 -&gt;1858</text>
<text transform="translate(2127.4,1142)rotate(-90)scale(.65,1)">АЛЕКСАНДР</text><text transform="translate(2127.4,1020)rotate(-90)scale(.65,1)">1857 -&gt;1858</text>
<rect class="b" x="2146" y="902" width="59.4" height="251"/><path class="d" d="M2175.7 902V1153"/>
<text transform="translate(2170,1142)rotate(-90)scale(.65,1)">МАКАР</text><text transform="translate(2170,1020)rotate(-90)scale(.65,1)">1853 -&gt;1858</text>
<text transform="translate(2199.7,1142)rotate(-90)scale(.65,1)">ВАСИЛИЙ</text><text transform="translate(2199.7,1020)rotate(-90)scale(.65,1)">1854 -&gt;1858</text>
<rect class="b" x="2217" y="902" width="89.1" height="251"/><path class="d" d="M2246.7 902V1153M2276.4 902V1153"/>
<text transform="translate(2241,1142)rotate(-90)scale(.65,1)">ФЁДОР</text><text transform="translate(2241,1020)rotate(-90)scale(.65,1)">1853 -&gt;1858</text>
<text transform="translate(2270.7,1142)rotate(-90)scale(.65,1)">ПРОКОФИЙ</text><text transform="translate(2270.7,1020)rotate(-90)scale(.65,1)">1855 -&gt;1858</text>
<text transform="translate(2300.4,1142)rotate(-90)scale(.65,1)">ИВАН</text><text transform="translate(2300.4,1020)rotate(-90)scale(.65,1)">1856 -&gt;1858</text>
</g>
</svg>
